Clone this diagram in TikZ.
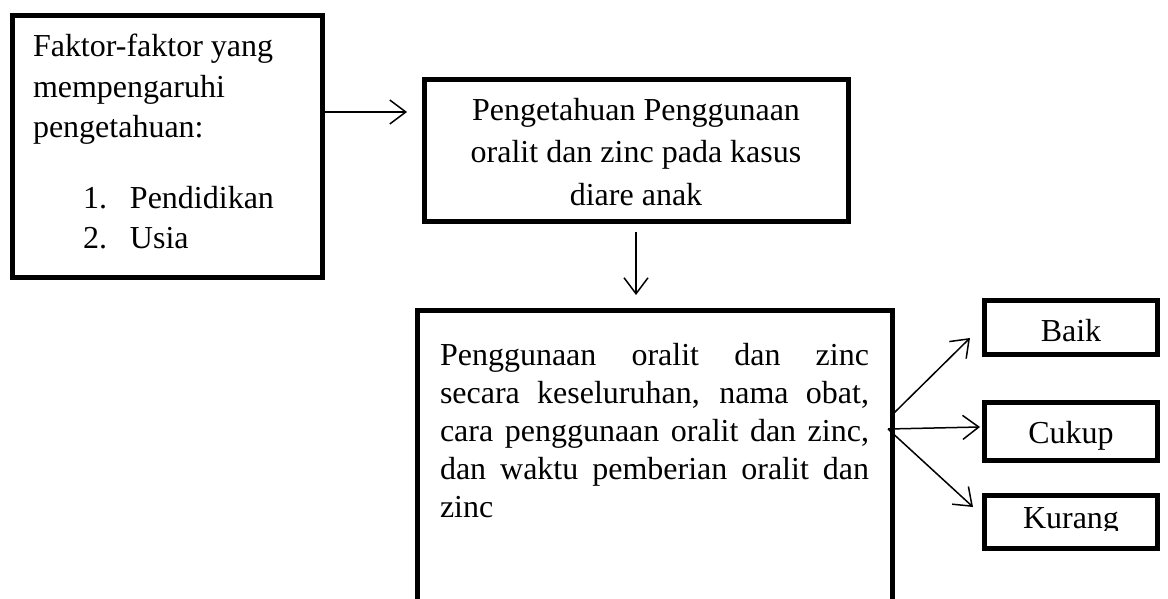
\documentclass[tikz,border=0pt]{standalone}
\usepackage{fontspec}
\setmainfont{Liberation Serif}
\usetikzlibrary{arrows.meta}
\begin{document}
\begin{tikzpicture}[x=1pt,y=-1pt,
  box/.style={draw, line width=5pt, inner sep=0pt, outer sep=0pt},
  txt/.style={inner sep=0pt, outer sep=0pt, font=\fontsize{32}{40}\selectfont},
  conn/.style={line width=1.5pt, -{Straight Barb[length=16pt,width=24pt]}}]
\useasboundingbox (0,0) rectangle (1168,599);

% boxes
\node[box, minimum width=310pt, minimum height=262pt] (b1) at (167.5,146.5) {};
\node[box, minimum width=424pt, minimum height=141pt] (b2) at (636,150.5) {};
\node[box, minimum width=475pt, minimum height=340pt] (b3) at (654.5,480) {};
\node[box, minimum width=173pt, minimum height=54pt] (bk) at (1071,327.5) {};
\node[box, minimum width=173pt, minimum height=58pt] (ck) at (1071,431.5) {};
\node[box, minimum width=173pt, minimum height=53pt] (kr) at (1071,521.5) {};

% box 1 text
\node[txt, anchor=base west] (t1a) at (33,57) {Faktor-faktor yang};
\node[txt, anchor=base west] (t1b) at (33,98) {mempengaruhi};
\node[txt, anchor=base west] (t1c) at (33,138) {pengetahuan:};
\node[txt, anchor=base west] (t1d) at (83,208) {\makebox[47pt][l]{1.}Pendidikan};
\node[txt, anchor=base west] (t1e) at (83,248) {\makebox[47pt][l]{2.}Usia};

% box 2 text
\node[txt, anchor=base] (t2a) at (636,121) {Pengetahuan Penggunaan};
\node[txt, anchor=base] (t2b) at (636,163) {oralit dan zinc pada kasus};
\node[txt, anchor=base] (t2c) at (636,205) {diare anak};

% box 3 text
\node[txt, anchor=base west] (t3a) at (440,365) {\makebox[429pt][s]{Penggunaan oralit dan zinc}};
\node[txt, anchor=base west] (t3b) at (440,403) {\makebox[429pt][s]{secara keseluruhan, nama obat,}};
\node[txt, anchor=base west] (t3c) at (440,441) {\makebox[429pt][s]{cara penggunaan oralit dan zinc,}};
\node[txt, anchor=base west] (t3d) at (440,479) {\makebox[429pt][s]{dan waktu pemberian oralit dan}};
\node[txt, anchor=base west] (t3e) at (440,517) {zinc};

% small box texts
\node[txt, anchor=base] (tb) at (1071,341) {Baik};
\node[txt, anchor=base] (tc) at (1071,443) {Cukup};
\begin{scope}
\clip (985,496) rectangle (1157,530);
\node[txt, anchor=base] (tk) at (1071,528) {Kurang};
\end{scope}

% connectors
\coordinate (a1) at (0,112);
\draw[conn, shorten >=17pt] (b1.east |- a1) -- (b2.west |- a1);
\draw[conn, shorten <=11pt, shorten >=15pt] (b2.south) -- (b2.south |- b3.north);
\coordinate (o1) at (894,413);
\coordinate (o2) at (888,429);
\coordinate (e1) at (970,338);
\coordinate (e2) at (980,427);
\coordinate (e3) at (973,507);
\draw[conn] (o1) -- (e1);
\draw[conn] (o2) -- (e2);
\draw[conn] (o2) -- (e3);
\end{tikzpicture}
\end{document}
